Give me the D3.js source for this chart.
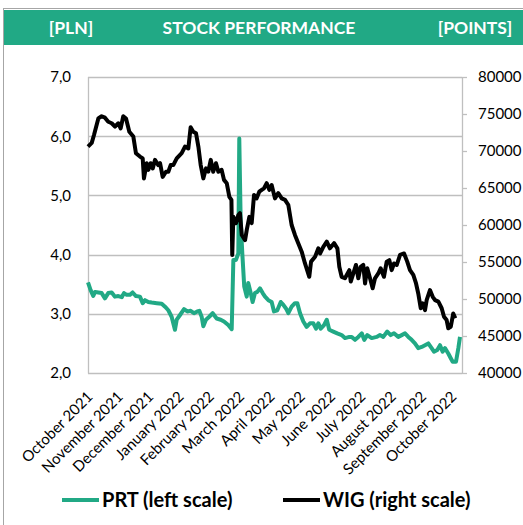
<!DOCTYPE html>
<html><head><meta charset="utf-8">
<script src="https://cdn.jsdelivr.net/npm/d3@7"></script>
<style>html,body{margin:0;padding:0;background:#fff;}svg{display:block;}</style>
</head><body>
<script>
// ---- DATA ----
const headerLeft = "[PLN]";
const headerTitle = "STOCK PERFORMANCE";
const headerRight = "[POINTS]";
const monthLabels = ["October 2021","November 2021","December 2021","January 2022","February 2022","March 2022","April 2022","May 2022","June 2022","July 2022","August 2022","September 2022","October 2022"];
const labelDays = [0,22,44,66,88,110,132,154,176,198,220,242,264];
const leftTicks = [2,3,4,5,6,7];
const rightTicks = [40000,45000,50000,55000,60000,65000,70000,75000,80000];
// [trading-day index, value]
const prt = [[0,3.53],[1.9,3.40],[3.8,3.30],[5.1,3.37],[7.5,3.36],[9.9,3.35],[12.3,3.26],[14.7,3.35],[17.2,3.36],[19.6,3.29],[22,3.30],[24.5,3.28],[26.1,3.35],[28.1,3.32],[30.5,3.32],[32.4,3.36],[34.8,3.30],[37.7,3.29],[39.7,3.18],[41.4,3.23],[43.8,3.20],[46.2,3.19],[49.9,3.18],[53.5,3.17],[55.9,3.12],[58.3,3.06],[60.7,2.95],[63.1,2.73],[64.4,2.90],[66.8,2.98],[69.7,3.08],[72.1,3.04],[74.5,3.05],[76.9,3.01],[79.3,3.04],[80.8,3.05],[82.5,2.95],[83.7,2.79],[85.6,2.90],[88,2.95],[90.5,3.01],[93.4,2.92],[96.3,2.90],[98.7,2.87],[101.8,2.81],[104.3,2.74],[105.5,3.91],[107.4,3.91],[109.1,4.02],[109.8,5.96],[110.8,4.58],[112,4.02],[113.4,3.46],[115.2,3.29],[116.3,3.52],[118.1,3.35],[119.5,3.20],[121.2,3.35],[122.9,3.37],[124.8,3.43],[126.8,3.35],[128.5,3.29],[130.9,3.23],[133.3,3.20],[135,3.04],[137.4,3.06],[139.9,3.20],[141.8,3.15],[143.7,3.09],[145.4,3.01],[147.8,3.12],[150.2,3.18],[151.9,3.18],[153.9,3.01],[156.3,2.87],[158.7,2.78],[161.1,2.84],[163.5,2.84],[165.5,2.75],[167.2,2.84],[168.9,2.75],[171.3,2.81],[173.3,2.90],[175.1,2.73],[178,2.70],[180.9,2.67],[184.1,2.64],[186.5,2.59],[189.7,2.61],[191.4,2.61],[193.8,2.56],[196.2,2.61],[198.7,2.67],[200.5,2.56],[202.7,2.64],[205.9,2.59],[209.5,2.61],[211.9,2.64],[214.3,2.61],[217.2,2.70],[219.7,2.64],[222.1,2.67],[225.2,2.61],[227.7,2.64],[230.1,2.67],[232.5,2.61],[234.9,2.56],[237.3,2.50],[239.7,2.42],[242.2,2.44],[244.6,2.47],[247,2.50],[249.4,2.42],[251.1,2.36],[253.5,2.39],[255.5,2.47],[257.4,2.36],[259.1,2.42],[261.5,2.33],[263.3,2.25],[264.7,2.19],[267.1,2.19],[268.8,2.42],[270,2.61]];
const wig = [[0,70600],[2.7,71100],[4.4,72200],[7.5,74400],[9.9,74700],[12.3,74500],[14.7,73950],[17.2,73750],[19.6,73300],[22,73750],[23.7,73050],[25.6,74700],[27.6,74400],[30,72600],[32.9,71950],[34.8,69700],[37.7,69250],[39.7,69000],[40.6,66300],[42.6,68350],[43.8,67450],[45.5,68350],[47,67650],[48.6,68800],[51,68100],[52.3,68350],[54.2,66500],[56.6,67200],[58.3,67200],[60,68100],[61.9,68100],[64.4,69000],[68,69700],[70.4,70600],[72.8,70350],[74.5,73200],[76.4,72600],[78.4,72400],[80.1,70600],[81.8,68100],[83.7,66300],[85.6,67650],[87.3,67200],[89.1,68800],[90.9,67200],[92.9,68350],[94.6,67200],[97,67450],[98.7,66100],[100.7,65650],[102.6,63800],[104.1,63400],[104.7,55950],[105.5,61100],[107.4,60250],[109.1,61350],[110.3,61600],[111.6,58650],[114,57950],[115.2,59300],[117.1,61100],[118.8,60250],[120.5,64050],[122.4,63600],[124.3,64500],[126.1,64750],[127.7,64950],[129.7,65650],[131.6,64750],[133.3,65400],[135.7,63600],[138.1,64300],[140.6,63600],[143,63400],[145.4,62700],[147.8,60000],[150.2,58650],[152.6,57550],[155.1,56400],[157.5,54800],[160.6,53000],[161.9,55050],[164.8,55700],[167.2,56850],[168.4,56150],[170.8,57050],[173.3,57750],[175.6,56850],[178.6,57550],[181,56850],[182.4,54350],[184.1,53000],[186.5,52800],[189.7,53900],[190.7,52350],[192.6,53450],[194.5,54600],[196.2,52800],[197.9,54350],[199.8,54600],[201.1,52100],[202.7,54150],[204.7,52800],[206.6,51450],[208.3,52800],[210.7,53450],[212.4,54150],[214.8,53000],[216.8,55050],[218.7,55250],[220.4,53900],[222.1,54800],[224.1,54600],[226.5,55950],[229.4,56150],[231.7,55050],[233.7,53900],[236.1,53250],[238.1,52100],[239.7,50750],[241.5,48750],[242.9,49400],[244.6,48500],[245.8,49850],[248.2,51200],[250.2,50300],[251.9,49850],[254.3,49650],[256.7,48750],[258.4,47600],[260.3,47150],[261.5,46050],[263.3,46250],[265.1,48050],[266.6,47400]];
const legendLabels = ["PRT (left scale)","WIG (right scale)"];

// ---- CHART ----
const W = 523, H = 525;
const green = "#21a985", grid = "#bfbfbf", font = "Lato, 'Open Sans', sans-serif";
const svg = d3.select("body").append("svg").attr("width", W).attr("height", H);

// frame + header
svg.append("line").attr("x1",3).attr("x2",W).attr("y1",8.5).attr("y2",8.5).attr("stroke","#a6a6a6");
svg.append("line").attr("x1",3.5).attr("x2",3.5).attr("y1",8).attr("y2",H).attr("stroke","#a6a6a6");
svg.append("rect").attr("x",4).attr("y",10).attr("width",W-4).attr("height",35).attr("fill",green);
const hdr = svg.append("g").attr("font-family",font).attr("font-weight","bold").attr("font-size",17.5).attr("fill","#fff").attr("text-anchor","middle");
hdr.append("text").attr("x",71).attr("y",28).attr("dy","0.35em").text(headerLeft);
hdr.append("text").attr("x",259).attr("y",28).attr("dy","0.35em").text(headerTitle);
hdr.append("text").attr("x",475).attr("y",28).attr("dy","0.35em").text(headerRight);

const x = d3.scaleLinear().domain([0,270]).range([88,460]);
const yL = d3.scaleLinear().domain([2,7]).range([373,77]);
const yR = d3.scaleLinear().domain([40000,80000]).range([373,77]);

// gridlines
svg.append("g").selectAll("line").data(leftTicks).join("line")
  .attr("x1",88).attr("x2",462).attr("y1",d=>Math.round(yL(d))+0.5).attr("y2",d=>Math.round(yL(d))+0.5)
  .attr("stroke",grid).attr("stroke-width",1.3);
svg.append("line").attr("x1",88.5).attr("x2",88.5).attr("y1",77).attr("y2",373.5).attr("stroke",grid).attr("stroke-width",1.3);

// left axis
const gL = svg.append("g").attr("transform","translate(71,0)")
  .call(d3.axisLeft(yL).tickValues(leftTicks).tickSize(0).tickPadding(0).tickFormat(d=>d3.format(".1f")(d).replace(".",",")));
gL.select(".domain").remove();
gL.selectAll("text").attr("font-family",font).attr("font-size",15).attr("fill","#000");

// right axis
const gR = svg.append("g").attr("transform","translate(462,0)")
  .call(d3.axisRight(yR).tickValues(rightTicks).tickSize(5).tickSizeOuter(0).tickPadding(11).tickFormat(d3.format("d")));
gR.select(".domain").attr("stroke",grid).attr("stroke-width",1.3);
gR.selectAll(".tick line").attr("stroke",grid).attr("stroke-width",1.3);
gR.selectAll("text").attr("font-family",font).attr("font-size",15).attr("fill","#000");

// x labels
svg.append("g").selectAll("text").data(labelDays).join("text")
  .attr("transform",(d)=>`translate(${x(d)+2},394) rotate(-45)`)
  .attr("text-anchor","end").attr("dy","0.35em")
  .attr("font-family",font).attr("font-size",15).attr("fill","#000")
  .text((d,i)=>monthLabels[i]);

// series
const lineL = d3.line().x(d=>x(d[0])).y(d=>yL(d[1]));
const lineR = d3.line().x(d=>x(d[0])).y(d=>yR(d[1]));
svg.append("path").datum(prt).attr("d",lineL).attr("fill","none").attr("stroke",green).attr("stroke-width",4).attr("stroke-linejoin","round");
svg.append("path").datum(wig).attr("d",lineR).attr("fill","none").attr("stroke","#000").attr("stroke-width",4).attr("stroke-linejoin","round");

// legend
const leg = svg.append("g").attr("font-family",font).attr("font-weight","bold").attr("font-size",20).attr("fill","#000");
const legItems = [{x:62,c:green,t:legendLabels[0]},{x:283,c:"#000",t:legendLabels[1]}];
legItems.forEach(it=>{
  leg.append("line").attr("x1",it.x).attr("x2",it.x+37).attr("y1",500).attr("y2",500).attr("stroke",it.c).attr("stroke-width",4);
  leg.append("text").attr("x",it.x+40).attr("y",500).attr("dy","0.35em").text(it.t);
});
</script>
</body></html>
